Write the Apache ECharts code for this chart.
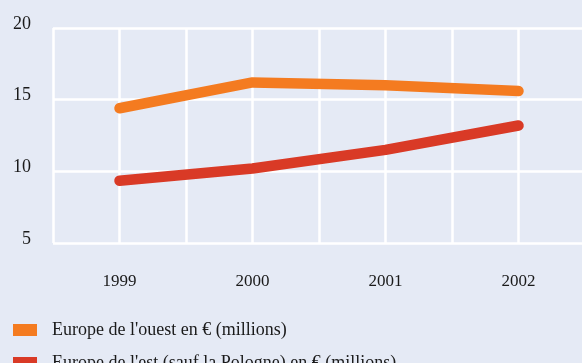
<!DOCTYPE html>
<html>
<head>
<meta charset="utf-8">
<script src="https://cdn.jsdelivr.net/npm/echarts@6/dist/echarts.min.js"></script>
<style>
  html, body { margin: 0; padding: 0; }
  #chart { width: 582px; height: 363px; background: #e5eaf5; }
</style>
</head>
<body>
<div id="chart"></div>
<script>
var years = [1999, 2000, 2001, 2002];
var ouestValues = [14.4, 16.2, 16.0, 15.6];   // Europe de l'ouest
var estValues = [9.35, 10.2, 11.5, 13.2];     // Europe de l'est (sauf la Pologne)
var seriesNames = ["Europe de l'ouest en \u20AC (millions)", "Europe de l'est (sauf la Pologne) en \u20AC (millions)"];
var colors = ['#f47b20', '#d93a26'];

var chart = echarts.init(document.getElementById('chart'));

function pairs(vals) {
    var out = [];
    for (var i = 0; i < years.length; i++) {
        out.push([years[i], vals[i]]);
    }
    return out;
}

var serif = 'Liberation Serif';
var legendText = { fontFamily: serif, fontSize: 18, color: '#1a1a1a', padding: [0, 0, 0, 10] };

var option = {
    backgroundColor: '#e5eaf5',
    animation: false,
    color: colors,
    // plot runs a little past the right edge, so its last split line is cut off
    grid: { left: 53, width: 532, top: 28, bottom: 120, outerBoundsMode: 'none' },
    xAxis: {
        type: 'value',
        min: 1998.5,
        max: 2002.5,
        interval: 0.5,
        axisLine: { show: false },
        axisTick: { show: false },
        axisLabel: {
            margin: 30,
            fontFamily: serif,
            fontSize: 17,
            color: '#1a1a1a',
            formatter: function (v) {
                return (v % 1 === 0) ? String(v) : '';
            }
        },
        splitLine: { show: true, lineStyle: { color: '#ffffff', width: 2.5 } }
    },
    yAxis: {
        type: 'value',
        min: 5,
        max: 20,
        interval: 5,
        axisLine: { show: false },
        axisTick: { show: false },
        axisLabel: {
            margin: 22,
            fontFamily: serif,
            fontSize: 18,
            color: '#1a1a1a',
            verticalAlign: 'bottom',
            lineHeight: 8
        },
        splitLine: { show: true, lineStyle: { color: '#ffffff', width: 2.5 } }
    },
    legend: [
        {
            left: 8,
            top: 316,
            itemWidth: 24,
            itemHeight: 12,
            icon: 'rect',
            textStyle: legendText,
            data: [seriesNames[0]]
        },
        {
            left: 8,
            top: 349,
            itemWidth: 24,
            itemHeight: 12,
            icon: 'rect',
            textStyle: legendText,
            data: [seriesNames[1]]
        }
    ],
    series: [
        {
            name: seriesNames[0],
            type: 'line',
            data: pairs(ouestValues),
            showSymbol: false,
            lineStyle: { width: 10.5, cap: 'round', join: 'round' }
        },
        {
            name: seriesNames[1],
            type: 'line',
            data: pairs(estValues),
            showSymbol: false,
            lineStyle: { width: 10.5, cap: 'round', join: 'round' }
        }
    ]
};

chart.setOption(option);
</script>
</body>
</html>
